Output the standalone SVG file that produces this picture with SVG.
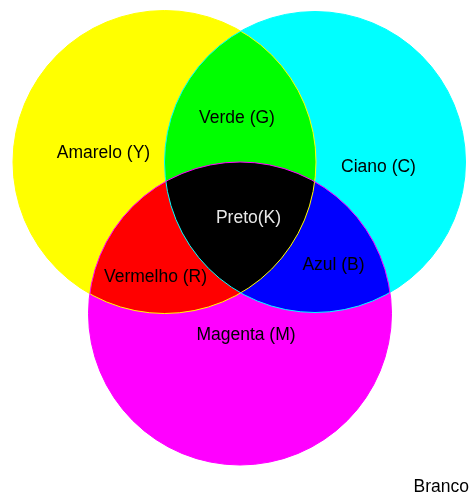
<svg xmlns="http://www.w3.org/2000/svg" width="471" height="497" viewBox="0 0 471 497">
<style>
.fill{mix-blend-mode:multiply}
.lbl{font-family:"Liberation Sans",Arial,sans-serif;font-size:17.5px;fill:#000;text-anchor:middle}
.edge{fill:none;stroke-width:1}
</style>
<rect width="471" height="497" fill="#fff"/>
<g id="fills" style="isolation:isolate">
<circle id="yellow" class="fill" cx="164.5" cy="162" r="151.5" fill="#ffff00"/>
<circle id="cyan" class="fill" cx="315" cy="162" r="150.5" fill="#00ffff"/>
<circle id="magenta" class="fill" cx="240" cy="313.5" r="151.5" fill="#ff00ff"/>
</g>
<g id="edges">
<circle class="edge" cx="164.5" cy="162" r="151.5" stroke="#ffff00"/>
<circle class="edge" cx="315" cy="162" r="150.5" stroke="#00ffff"/>
<circle class="edge" cx="240" cy="313.5" r="151.5" stroke="#ff00ff"/>
</g>
<g id="labels">
<text class="lbl" x="103.5" y="158">Amarelo (Y)</text>
<text class="lbl" x="237" y="123">Verde (G)</text>
<text class="lbl" x="378.5" y="172">Ciano (C)</text>
<text class="lbl" x="248.5" y="223" style="fill:#e8e8e8">Preto(K)</text>
<text class="lbl" x="333.5" y="270">Azul (B)</text>
<text class="lbl" x="155.5" y="282">Vermelho (R)</text>
<text class="lbl" x="246" y="340">Magenta (M)</text>
<text class="lbl" x="469" y="492" style="text-anchor:end">Branco</text>
</g>
</svg>
